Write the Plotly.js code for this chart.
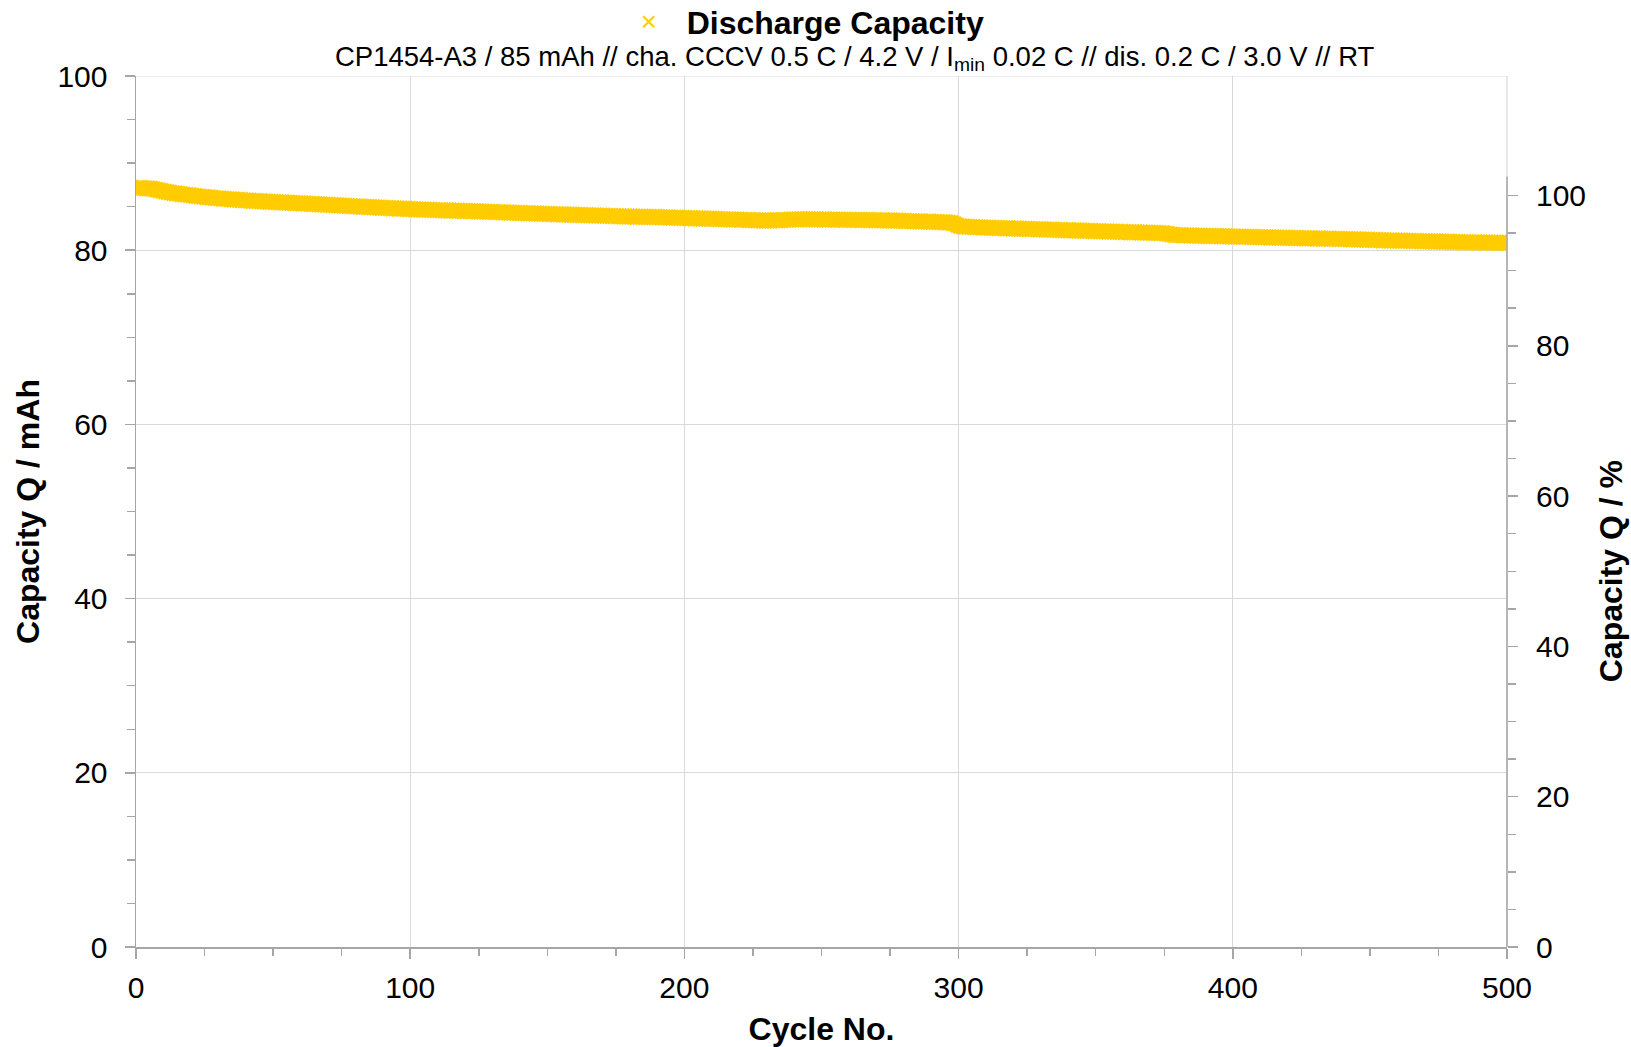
<!DOCTYPE html>
<html>
<head>
<meta charset="utf-8">
<script src="https://cdn.plot.ly/plotly-3.0.1.min.js"></script>
<style>html,body{margin:0;padding:0;background:#fff;}#chart{width:1631px;height:1047px;}</style>
</head>
<body>
<div id="chart"></div>
<script>
// Discharge capacity (mAh) per cycle, cycles 1..500
const capacity = [
87.15,87.18,87.12,87.10,87.08,87.05,86.98,86.90,86.85,86.78,
86.72,86.65,86.60,86.55,86.50,86.46,86.42,86.38,86.35,86.30,
86.26,86.22,86.18,86.15,86.11,86.08,86.04,86.01,85.98,85.95,
85.93,85.90,85.88,85.86,85.83,85.81,85.79,85.77,85.74,85.72,
85.70,85.68,85.66,85.65,85.63,85.61,85.59,85.57,85.56,85.54,
85.52,85.51,85.49,85.47,85.46,85.44,85.43,85.41,85.39,85.38,
85.36,85.35,85.33,85.31,85.30,85.28,85.26,85.25,85.23,85.21,
85.20,85.18,85.16,85.14,85.12,85.11,85.09,85.07,85.05,85.03,
85.02,85.00,84.98,84.97,84.95,84.93,84.92,84.90,84.88,84.87,
84.85,84.84,84.82,84.81,84.79,84.78,84.76,84.75,84.73,84.72,
84.71,84.70,84.68,84.67,84.66,84.65,84.64,84.63,84.61,84.60,
84.59,84.58,84.57,84.56,84.55,84.54,84.53,84.52,84.51,84.50,
84.49,84.48,84.47,84.46,84.45,84.44,84.43,84.42,84.41,84.40,
84.38,84.37,84.36,84.35,84.33,84.32,84.31,84.29,84.28,84.27,
84.26,84.25,84.24,84.23,84.22,84.21,84.20,84.19,84.17,84.16,
84.15,84.14,84.13,84.12,84.11,84.10,84.09,84.08,84.07,84.06,
84.05,84.04,84.03,84.02,84.01,84.00,83.99,83.98,83.97,83.96,
83.95,83.94,83.93,83.92,83.91,83.90,83.89,83.88,83.87,83.86,
83.86,83.85,83.84,83.84,83.83,83.82,83.82,83.81,83.80,83.80,
83.79,83.78,83.77,83.76,83.75,83.74,83.73,83.72,83.71,83.70,
83.69,83.68,83.67,83.66,83.65,83.64,83.63,83.62,83.61,83.60,
83.59,83.58,83.57,83.56,83.55,83.54,83.53,83.52,83.51,83.50,
83.49,83.48,83.47,83.46,83.45,83.44,83.43,83.42,83.42,83.41,
83.41,83.42,83.43,83.44,83.45,83.46,83.48,83.50,83.52,83.53,
83.54,83.55,83.56,83.56,83.55,83.55,83.54,83.54,83.53,83.53,
83.52,83.52,83.51,83.51,83.50,83.50,83.50,83.49,83.49,83.49,
83.48,83.48,83.48,83.47,83.47,83.47,83.46,83.46,83.45,83.45,
83.44,83.44,83.43,83.42,83.41,83.40,83.39,83.38,83.37,83.36,
83.35,83.34,83.33,83.32,83.31,83.30,83.29,83.28,83.27,83.26,
83.25,83.24,83.23,83.22,83.20,83.18,83.15,83.10,82.95,82.80,
82.74,82.72,82.70,82.68,82.67,82.65,82.63,82.62,82.60,82.59,
82.58,82.57,82.56,82.55,82.54,82.53,82.52,82.51,82.50,82.49,
82.48,82.47,82.46,82.45,82.44,82.43,82.42,82.41,82.40,82.39,
82.38,82.37,82.36,82.35,82.34,82.33,82.32,82.31,82.30,82.29,
82.28,82.27,82.26,82.25,82.24,82.23,82.22,82.21,82.20,82.19,
82.18,82.17,82.16,82.15,82.14,82.13,82.12,82.11,82.10,82.09,
82.08,82.07,82.06,82.05,82.05,82.04,82.03,82.02,82.01,82.00,
81.99,81.98,81.97,81.96,81.95,81.90,81.82,81.78,81.75,81.73,
81.72,81.71,81.70,81.69,81.68,81.67,81.66,81.66,81.65,81.64,
81.64,81.63,81.62,81.62,81.61,81.60,81.60,81.59,81.58,81.57,
81.56,81.56,81.55,81.54,81.53,81.52,81.52,81.51,81.50,81.49,
81.48,81.48,81.47,81.46,81.45,81.45,81.44,81.43,81.42,81.42,
81.41,81.40,81.40,81.39,81.38,81.38,81.37,81.36,81.36,81.35,
81.34,81.34,81.33,81.32,81.32,81.31,81.30,81.30,81.29,81.28,
81.27,81.27,81.26,81.25,81.24,81.23,81.22,81.21,81.20,81.19,
81.18,81.17,81.16,81.15,81.14,81.13,81.12,81.12,81.11,81.10,
81.09,81.08,81.08,81.07,81.06,81.05,81.05,81.04,81.03,81.02,
81.02,81.01,81.00,80.99,80.99,80.98,80.97,80.96,80.96,80.95,
80.94,80.94,80.93,80.92,80.92,80.91,80.90,80.90,80.89,80.89,
80.88,80.88,80.87,80.87,80.86,80.86,80.85,80.85,80.84,80.84
];
const cycles = capacity.map((_, i) => i + 1);

const seriesName = "Discharge Capacity";
const chartTitle = "CP1454-A3 / 85 mAh // cha. CCCV 0.5 C / 4.2 V / I<sub>min</sub> 0.02 C // dis. 0.2 C / 3.0 V // RT";
const xTitle = "Cycle No.";
const yTitle = "Capacity Q / mAh";
const y2Title = "Capacity Q / %";
const xTicks = [0, 100, 200, 300, 400, 500];
const yTicks = [0, 20, 40, 60, 80, 100];
const y2Ticks = [0, 20, 40, 60, 80, 100];
const y2Minor = [5,10,15,25,30,35,45,50,55,65,70,75,85,90,95];
const y2Range = [0, 115.9];
const y2AxisTop = 102.5;

const FONT = "Liberation Sans, Arial, sans-serif";
const AX = "#a6a6a6";
const GRID = "#d9d9d9";
const YELLOW = "#FFCC00";

const traces = [
  {
    x: cycles, y: capacity, type: "scatter", mode: "markers", name: seriesName,
    marker: {symbol: "x", size: 15, color: YELLOW, line: {width: 0}},
    showlegend: false, hoverinfo: "x+y"
  },
  {
    x: [null], y: [null], type: "scatter", mode: "markers", name: seriesName,
    marker: {symbol: "x-thin", size: 11, color: YELLOW, line: {color: YELLOW, width: 2}},
    showlegend: true, hoverinfo: "skip"
  },
  {
    x: [cycles[0]], y: [y2Ticks[0]], yaxis: "y2", type: "scatter", mode: "markers",
    marker: {opacity: 0}, showlegend: false, hoverinfo: "skip"
  }
];

const layout = {
  width: 1631, height: 1047,
  margin: {l: 136, r: 124, t: 76, b: 100},
  paper_bgcolor: "#fff", plot_bgcolor: "#fff",
  font: {family: FONT, color: "#000"},
  showlegend: true,
  legend: {
    orientation: "h", x: 0.4906, xanchor: "center", xref: "container",
    y: 1 - 22/1047, yanchor: "middle", yref: "container",
    font: {size: 32, family: FONT, weight: "bold"},
    itemwidth: 66
  },
  title: {
    text: chartTitle, font: {size: 27.5, family: FONT, color: "#000"},
    x: 0.524, xanchor: "center", xref: "container",
    y: 1 - 56/1047, yanchor: "middle", yref: "container"
  },
  xaxis: {
    range: [0, 500], tickvals: xTicks, ticks: "outside", ticklen: 10, tickwidth: 1.5, tickcolor: AX,
    showline: true, linecolor: AX, linewidth: 1.5, showgrid: true, gridcolor: GRID, gridwidth: 1.2,
    zeroline: false, tickfont: {size: 30}, ticklabelstandoff: 3,
    minor: {dtick: 25, ticks: "outside", ticklen: 7, tickcolor: AX, tickwidth: 1.5, showgrid: false},
    title: {text: "<b>" + xTitle + "</b>", font: {size: 32}, standoff: 15}
  },
  yaxis: {
    range: [0, 100], tickvals: yTicks, ticks: "outside", ticklen: 10, tickwidth: 1.5, tickcolor: AX,
    showline: true, linecolor: AX, linewidth: 1.5, showgrid: true, gridcolor: GRID, gridwidth: 1.2,
    zeroline: false, tickfont: {size: 30}, ticklabelstandoff: 11,
    minor: {dtick: 5, ticks: "outside", ticklen: 8, tickcolor: AX, tickwidth: 1.5, showgrid: false},
    title: {text: "<b>" + yTitle + "</b>", font: {size: 32}, standoff: 8}
  },
  yaxis2: {
    overlaying: "y", side: "right", anchor: "x", range: y2Range,
    tickmode: "array", tickvals: y2Ticks, ticks: "outside", ticklen: 10, tickwidth: 1.5, tickcolor: AX,
    showline: false, showgrid: false, zeroline: false, tickfont: {size: 30}, ticklabelstandoff: 12,
    minor: {tickmode: "array", tickvals: y2Minor, ticks: "outside", ticklen: 8, tickcolor: AX, tickwidth: 1.5, showgrid: false}
  },
  annotations: [
    {text: "<b>" + y2Title + "</b>", textangle: -90, font: {size: 32, family: FONT, color: "#000"},
     xref: "paper", x: 1, xshift: 104, xanchor: "center",
     yref: "y2", y: 50, yanchor: "middle", showarrow: false}
  ],
  shapes: [
    {type: "line", xref: "paper", x0: 1, x1: 1, yref: "y2", y0: 0, y1: y2AxisTop,
     line: {color: AX, width: 1.5}, layer: "above"},
    {type: "line", xref: "paper", x0: 1, x1: 1, yref: "y", y0: 0, y1: 100,
     line: {color: GRID, width: 1.2}, layer: "below"},
    {type: "line", xref: "paper", x0: 0, x1: 1, yref: "y", y0: 100, y1: 100,
     line: {color: GRID, width: 1.2}, layer: "below"}
  ]
};

Plotly.newPlot("chart", traces, layout, {displayModeBar: false, staticPlot: true});
</script>
</body>
</html>
